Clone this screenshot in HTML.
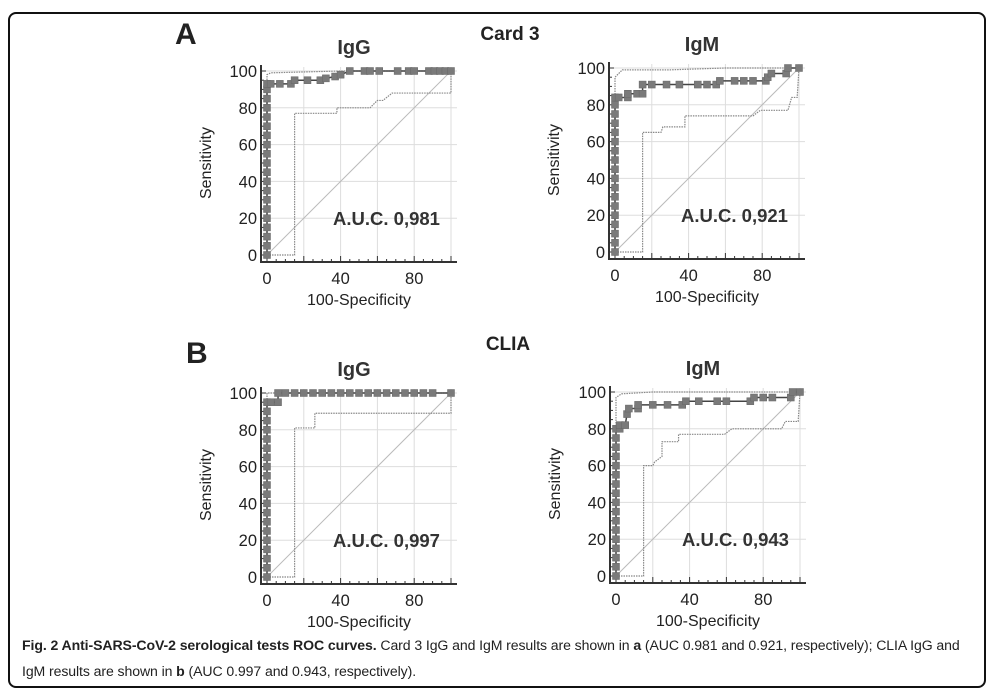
<!DOCTYPE html>
<html><head><meta charset="utf-8"><style>
body{margin:0;background:#fff;width:996px;height:699px;overflow:hidden;font-family:"Liberation Sans",sans-serif}
#frame{position:absolute;left:8px;top:12px;width:978px;height:676px;border:2px solid #111;border-radius:8px;box-sizing:border-box}
.cap{position:absolute;left:22px;font-size:14.1px;color:#222;font-family:"Liberation Sans Narrow","Liberation Sans",sans-serif;letter-spacing:-0.1px;white-space:nowrap}
</style></head><body>
<div id="frame"></div>
<svg id="fig" width="996" height="699" style="position:absolute;left:0;top:0"></svg>
<div class="cap" style="top:637px"><b>Fig. 2 Anti-SARS-CoV-2 serological tests ROC curves.</b> Card 3 IgG and IgM results are shown in <b>a</b> (AUC 0.981 and 0.921, respectively); CLIA IgG and</div>
<div class="cap" style="top:663px">IgM results are shown in <b>b</b> (AUC 0.997 and 0.943, respectively).</div>
<script>
// Panel A IgG (Card 3)
const aIgG_rocX=[0,0,0,0,0,0,0,0,0,0,0,0,0,0,0,0,0,0,0,0,2,7,13,15,22,29,32,37,40,45,53,56,61,71,77,80,88,91,94,97,100];
const aIgG_rocY=[0,5,10,15,20,25,30,35,40,45,50,55,60,65,70,75,80,85,90,93,93,93,93,95,95,95,96,97,98,100,100,100,100,100,100,100,100,100,100,100,100];
const aIgG_upX=[0,0,2,40,100];
const aIgG_upY=[0,98,99,100,100];
const aIgG_loX=[0,15,15,38,38,56,60,63,68,100,100];
const aIgG_loY=[0,0,77,77,80,80,84,84,88,88,100];
// Panel A IgM (Card 3)
const aIgM_rocX=[0,0,0,0,0,0,0,0,0,0,0,0,0,0,0,0,0,0,2,7,7,12,15,15,20,28,35,45,50,55,57,65,70,75,82,83,85,93,94,100];
const aIgM_rocY=[0,5,10,15,20,25,30,35,40,45,50,55,60,65,70,75,80,84,84,84,86,86,86,91,91,91,91,91,91,91,93,93,93,93,93,95,97,97,100,100];
const aIgM_upX=[0,0,2,4,30,60,100];
const aIgM_upY=[0,95,97,99,99,100,100];
const aIgM_loX=[0,15,15,25,26,38,38,75,79,94,96,99,100];
const aIgM_loY=[0,0,65,65,68,68,74,74,77,77,84,84,100];
// Panel B IgG (CLIA)
const bIgG_rocX=[0,0,0,0,0,0,0,0,0,0,0,0,0,0,0,0,0,0,0,0,2,6,6,10,15,20,25,30,35,40,45,50,55,60,65,70,75,80,85,90,100];
const bIgG_rocY=[0,5,10,15,20,25,30,35,40,45,50,55,60,65,70,75,80,85,90,95,95,95,100,100,100,100,100,100,100,100,100,100,100,100,100,100,100,100,100,100,100];
const bIgG_upX=[0,0,100];
const bIgG_upY=[0,100,100];
const bIgG_loX=[0,15,15,26,26,100,100];
const bIgG_loY=[0,0,81,81,89,89,100];
// Panel B IgM (CLIA)
const bIgM_rocX=[0,0,0,0,0,0,0,0,0,0,0,0,0,0,0,0,0,2,2,5,6,7,12,12,20,28,36,38,45,55,60,73,75,80,85,95,96,100];
const bIgM_rocY=[0,5,10,15,20,25,30,35,40,45,50,55,60,65,70,75,80,80,82,82,88,91,91,93,93,93,93,95,95,95,95,95,97,97,97,97,100,100];
const bIgM_upX=[0,0,3,20,100];
const bIgM_upY=[0,97,99,100,100];
const bIgM_loX=[0,15,15,20,21,25,25,34,34,59,63,90,92,99,100];
const bIgM_loY=[0,0,60,60,62,65,73,73,77,77,80,80,84,84,100];

const yTicks=[0,20,40,60,80,100];
const xTickLabels=[0,40,80];
const gridVals=[20,40,60,80,100];

const NS='http://www.w3.org/2000/svg';
const svg=document.getElementById('fig');
function mk(tag,attrs,parent){const e=document.createElementNS(NS,tag);for(const k in attrs)e.setAttribute(k,attrs[k]);(parent||svg).appendChild(e);return e;}
function txt(s,attrs,parent){const e=mk('text',attrs,parent);e.textContent=s;return e;}

function panel(id,ox,oy,title,auc,rX,rY,uX,uY,lX,lY){
  const W=184,H=184;
  const g=mk('g',{});
  
  
  const sx=v=>ox+v/100*W, sy=v=>oy-v/100*H;
  gridVals.forEach(v=>{
    const a=mk('line',{x1:sx(v),x2:sx(v),y1:oy+6,y2:sy(100)-4,stroke:'#ddd','stroke-width':1},g);
    
    const b=mk('line',{x1:ox-6,x2:sx(100)+6,y1:sy(v),y2:sy(v),stroke:'#ddd','stroke-width':1},g);
    
  });
  const ax=mk('line',{x1:ox-6,x2:ox-6,y1:sy(100)-6,y2:oy+7,stroke:'#333','stroke-width':2},g);
  
  const bx=mk('line',{x1:ox-7,x2:sx(100)+6,y1:oy+7,y2:oy+7,stroke:'#333','stroke-width':2},g);
  
  for(let v=0;v<=100;v+=5){
    const maj=v%20===0;
    mk('line',{x1:ox-6,x2:ox-(maj?1:3),y1:sy(v),y2:sy(v),stroke:'#333','stroke-width':1},g);
    mk('line',{x1:sx(v),x2:sx(v),y1:oy+7,y2:oy+(maj?1:4),stroke:'#333','stroke-width':1},g);
  }
  yTicks.forEach(v=>{const t=txt(String(v),{x:ox-10,y:sy(v)+6,'text-anchor':'end','font-size':16.5,fill:'#222'},g);
    });
  xTickLabels.forEach(v=>{const t=txt(String(v),{x:sx(v),y:oy+29,'text-anchor':'middle','font-size':16.5,fill:'#222'},g);
    });
  const xt=txt('100-Specificity',{x:ox+W/2,y:oy+50,'text-anchor':'middle','font-size':16,fill:'#222'},g);
  
  const yt=txt('Sensitivity',{x:0,y:0,'text-anchor':'middle','font-size':16,fill:'#222',transform:`translate(${ox-56},${oy-H/2}) rotate(-90)`},g);
  
  const tt=txt(title,{x:ox+W/2-5,y:sy(100)-17,'text-anchor':'middle','font-size':20,'font-weight':'bold',fill:'#333'},g);
  
  const at=txt(auc,{x:sx(94),y:sy(20)+7,'text-anchor':'end','font-size':18.5,'font-weight':'bold',fill:'#333'},g);
  
  const d=mk('line',{x1:sx(0),y1:sy(0),x2:sx(100),y2:sy(100),stroke:'#bbb','stroke-width':1},g);
  
  const pts=(X,Y)=>X.map((x,i)=>sx(x)+','+sy(Y[i])).join(' ');
  const u=mk('polyline',{points:pts(uX,uY),fill:'none',stroke:'#888','stroke-width':1.2,'stroke-dasharray':'1.5,1'},g);
  
  const l=mk('polyline',{points:pts(lX,lY),fill:'none',stroke:'#888','stroke-width':1.2,'stroke-dasharray':'1.5,1'},g);
  
  const r=mk('polyline',{points:pts(rX,rY),fill:'none',stroke:'#444','stroke-width':1.5},g);
  
  rX.forEach((x,i)=>{
    const m=mk('rect',{x:sx(x)-3.5,y:sy(rY[i])-3.5,width:7,height:7,fill:'#7a7a7a',stroke:'#666','stroke-width':0.5},g);
    
    
  });
}
panel('card3-igg',267,255,'IgG','A.U.C. 0,981',aIgG_rocX,aIgG_rocY,aIgG_upX,aIgG_upY,aIgG_loX,aIgG_loY);
panel('card3-igm',615,252,'IgM','A.U.C. 0,921',aIgM_rocX,aIgM_rocY,aIgM_upX,aIgM_upY,aIgM_loX,aIgM_loY);
panel('clia-igg',267,577,'IgG','A.U.C. 0,997',bIgG_rocX,bIgG_rocY,bIgG_upX,bIgG_upY,bIgG_loX,bIgG_loY);
panel('clia-igm',616,576,'IgM','A.U.C. 0,943',bIgM_rocX,bIgM_rocY,bIgM_upX,bIgM_upY,bIgM_loX,bIgM_loY);
function lab(s,x,y,size,name){const t=txt(s,{x:x,y:y,'text-anchor':'start','font-size':size,'font-weight':'bold',fill:'#222'});
  return t;}
lab('A',175,44,30,'panel-letter-a');
lab('B',186,363,30,'panel-letter-b');
const c3=txt('Card 3',{x:510,y:40,'text-anchor':'middle','font-size':19,'font-weight':'bold',fill:'#222'});

const cl=txt('CLIA',{x:508,y:350,'text-anchor':'middle','font-size':19,'font-weight':'bold',fill:'#222'});

</script>
</body></html>
